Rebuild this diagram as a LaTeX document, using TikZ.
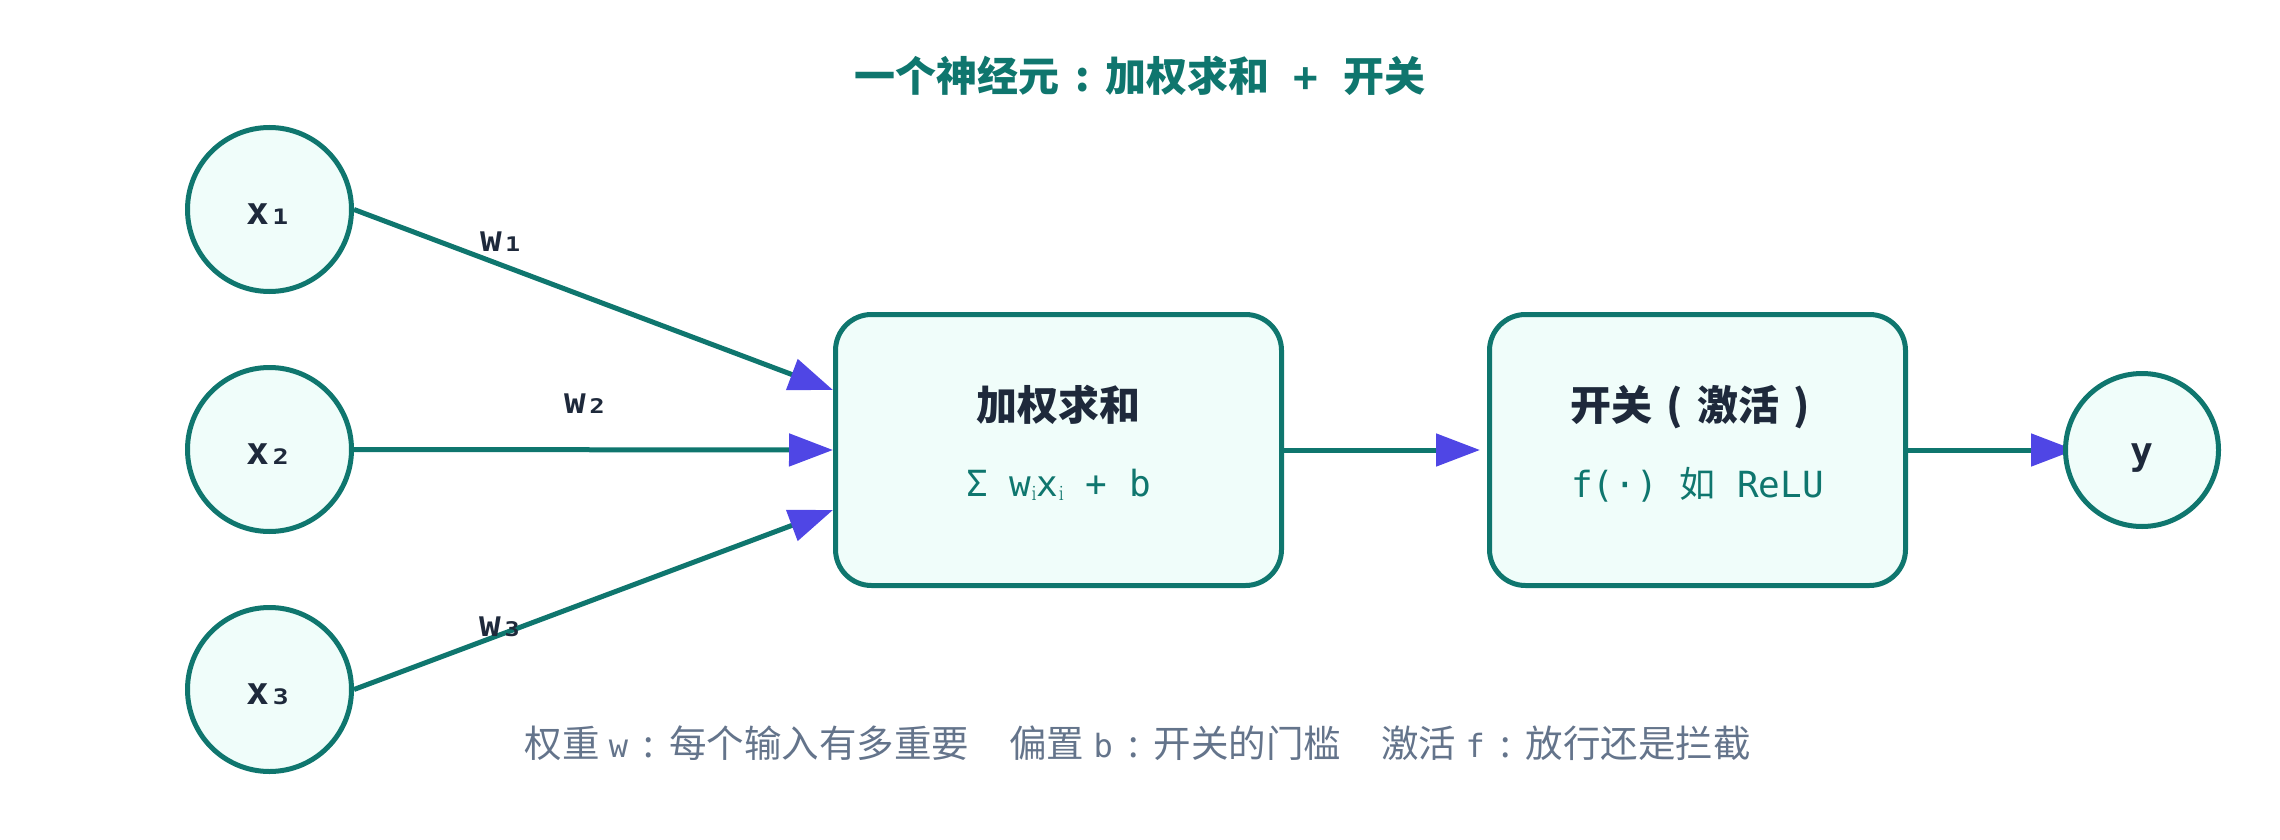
\documentclass[tikz,border=0pt]{standalone}
\usepackage{fontspec}
\usetikzlibrary{arrows.meta,backgrounds}
\newfontfamily\zh{Noto Sans CJK SC}
\newfontfamily\mo{DejaVu Sans Mono}
\definecolor{tealc}{HTML}{0F766E}
\definecolor{fillc}{HTML}{F0FDFA}
\definecolor{inkc}{HTML}{1E293B}
\definecolor{arrc}{HTML}{4F46E5}
\definecolor{grayc}{HTML}{64748B}
\newcommand{\fs}[1]{\fontsize{#1}{#1}\selectfont}
\newcommand{\subi}{\raisebox{-4pt}{\rmfamily\fs{22}i}}
\newcommand{\cbox}[1]{\makebox[1.1em][c]{#1}}
\newcommand{\latin}[1]{\hspace{9pt}{\mo\fs{32}#1}}
\newcommand{\dn}[2]{\raisebox{-#1}[\height][\depth]{#2}}
\begin{document}
\begin{tikzpicture}[x=1pt,y=-1pt,
  inp/.style={circle,draw=tealc,fill=fillc,line width=5pt,minimum size=164pt,inner sep=0pt,text=inkc,font=\mo\bfseries\fs{38}},
  boxn/.style={rounded corners=36pt,draw=tealc,fill=fillc,line width=5pt,minimum height=271pt,inner sep=0pt},
  conn/.style={draw=tealc,line width=5pt,-{Triangle[length=44pt,width=32pt,color=arrc]}},
  wlab/.style={text=inkc,font=\mo\bfseries\fs{36},inner sep=0pt},
  head/.style={text=inkc,font=\zh\bfseries\fs{41},inner sep=0pt},
  formula/.style={text=tealc,font=\mo\fs{36},inner sep=0pt}]
\useasboundingbox (0,0) rectangle (2280,840);
% title
\node[text=tealc,font=\zh\bfseries\fs{41},inner sep=0pt] (title) at (1140,76) {一个神经元\cbox{:}加权求和{\mo\bfseries\ +\ }开关};
% inputs
\node[inp] (x1) at (269.5,209.5) {\dn{5pt}{x₁}};
\node[inp] (x2) at (269.5,449.5) {\dn{5pt}{x₂}};
\node[inp] (x3) at (269.5,689.5) {\dn{5pt}{x₃}};
% boxes
\node[boxn,minimum width=446pt] (sum) at (1058.5,450) {};
\node[boxn,minimum width=416pt] (act) at (1697.5,450) {};
\node[head] (sumt) at (1058.5,405) {加权求和};
\node[formula] (sumf) at (1058.5,485) {Σ\ w\subi x\subi\ +\ b};
\node[head] (actt) at (1697.5,407) {开关\cbox{(}激活\cbox{)}};
\node[formula] (actf) at (1697.5,485) {f(·)\ {\zh 如}\ ReLU};
% output
\node[circle,draw=tealc,fill=fillc,line width=5pt,minimum size=153pt,inner sep=0pt,text=inkc,font=\mo\bfseries\fs{38}] (y) at (2142,450) {\dn{8pt}{y}};
% weights
\node[wlab] (w1) at (502,242) {w₁};
\node[wlab] (w2) at (586,404) {w₂};
\node[wlab] (w3) at (501,627) {w₃};
% connectors
\begin{pgfonlayer}{background}
\draw[conn] (x1.east) -- ([yshift=60pt]sum.west);
\draw[conn] (x2.east) -- (sum.west);
\draw[conn] (x3.east) -- ([yshift=-60pt]sum.west);
\draw[conn] (sum.east) -- ([xshift=-7pt]act.west);
\draw[conn] (act.east) -- ([xshift=12pt]y.west);
\end{pgfonlayer}
% legend
\node[text=grayc,font=\zh\fs{37.5},inner sep=0pt] (legend) at (1138,743) {权重\latin{w}\cbox{:}每个输入有多重要\hspace{40pt}偏置\latin{b}\cbox{:}开关的门槛\hspace{40pt}激活\latin{f}\cbox{:}放行还是拦截};
\end{tikzpicture}
\end{document}
